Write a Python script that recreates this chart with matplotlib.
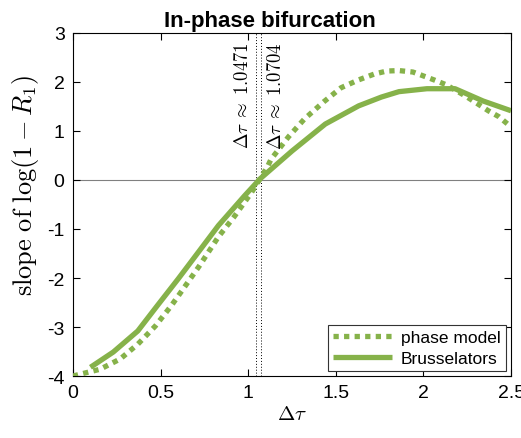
import numpy as np
import matplotlib
matplotlib.use("Agg")
import matplotlib.pyplot as plt

plt.rcParams['font.family'] = ['Liberation Sans', 'DejaVu Sans']
plt.rcParams['mathtext.fontset'] = 'cm'

# phase model (dotted)
phase_x = [0.0, 0.02, 0.155, 0.27, 0.37, 0.47, 0.56, 0.60, 0.72, 0.83, 0.92,
           1.02, 1.11, 1.13, 1.23, 1.32, 1.43, 1.53, 1.63, 1.72, 1.79, 1.86,
           1.94, 2.0, 2.06, 2.13, 2.24, 2.31, 2.37, 2.43, 2.48, 2.5]
phase_y = [-4.0, -3.98, -3.86, -3.65, -3.35, -2.98, -2.57, -2.37, -1.76, -1.16,
           -0.75, -0.25, 0.27, 0.42, 0.88, 1.24, 1.59, 1.88, 2.04, 2.16, 2.22,
           2.23, 2.2, 2.12, 2.04, 1.94, 1.71, 1.55, 1.41, 1.29, 1.14, 1.08]

# Brusselators (solid)
bruss_x = [0.1, 0.23, 0.37, 0.48, 0.60, 0.655, 0.83, 0.98, 1.07, 1.25, 1.44,
           1.63, 1.76, 1.86, 2.02, 2.18, 2.34, 2.5]
bruss_y = [-3.82, -3.51, -3.08, -2.57, -2.02, -1.76, -0.93, -0.32, 0.03, 0.59,
           1.14, 1.51, 1.69, 1.8, 1.86, 1.86, 1.61, 1.41]

crit_phase = 1.0471
crit_bruss = 1.0704

green = '#86b24a'

fig = plt.figure(figsize=(5.21, 4.39), dpi=100)
ax = fig.add_axes([0.140, 0.141, 0.841, 0.782])

ax.axhline(0, color='#808080', lw=0.8, zorder=1)
ax.axvline(crit_phase, color='black', lw=0.7, ls=(0, (1, 2)), zorder=1)
ax.axvline(crit_bruss, color='black', lw=0.7, ls=(0, (1, 2)), zorder=1)

ax.plot(phase_x, phase_y, color=green, lw=3.8, ls=(0, (1, 1)),
        dash_capstyle='butt', solid_joinstyle='round', label='phase model',
        zorder=3)
ax.plot(bruss_x, bruss_y, color=green, lw=3.8, solid_capstyle='butt',
        solid_joinstyle='round', label='Brusselators', zorder=3)

ax.text(crit_phase - 0.025, 2.82, r'$\Delta\tau\;\approx\;1.0471$', rotation=90,
        ha='right', va='top', fontsize=13.5)
ax.text(crit_bruss + 0.035, 2.82, r'$\Delta\tau\;\approx\;1.0704$', rotation=90,
        ha='left', va='top', fontsize=13.5)

ax.set_xlim(0, 2.5)
ax.set_ylim(-4, 3)
ax.set_xticks([0, 0.5, 1, 1.5, 2, 2.5])
ax.set_xticklabels(['0', '0.5', '1', '1.5', '2', '2.5'])
ax.set_yticks(range(-4, 4))
ax.set_yticklabels([str(v) for v in range(-4, 4)])
ax.tick_params(direction='in', top=True, right=True, length=5, width=0.8,
               labelsize=14, pad=6)
for s in ax.spines.values():
    s.set_linewidth(0.8)

ax.set_xlabel(r'$\Delta\tau$', fontsize=15, labelpad=2)
ax.set_ylabel(r'$\mathrm{slope\ of\ }\log(1-R_1)$', fontsize=19)
ax.yaxis.set_label_coords(-0.072, 0.56)
ax.set_title('In-phase bifurcation', fontsize=16, fontweight='bold', pad=5,
             x=0.45)

leg = ax.legend(loc='lower right', fontsize=12.5, handlelength=3.4,
                fancybox=False, edgecolor='#333333', framealpha=1,
                borderpad=0.3, labelspacing=0.3, handletextpad=0.5,
                borderaxespad=0.3)
leg.get_frame().set_linewidth(0.8)

fig.savefig('out.png', dpi=100)
